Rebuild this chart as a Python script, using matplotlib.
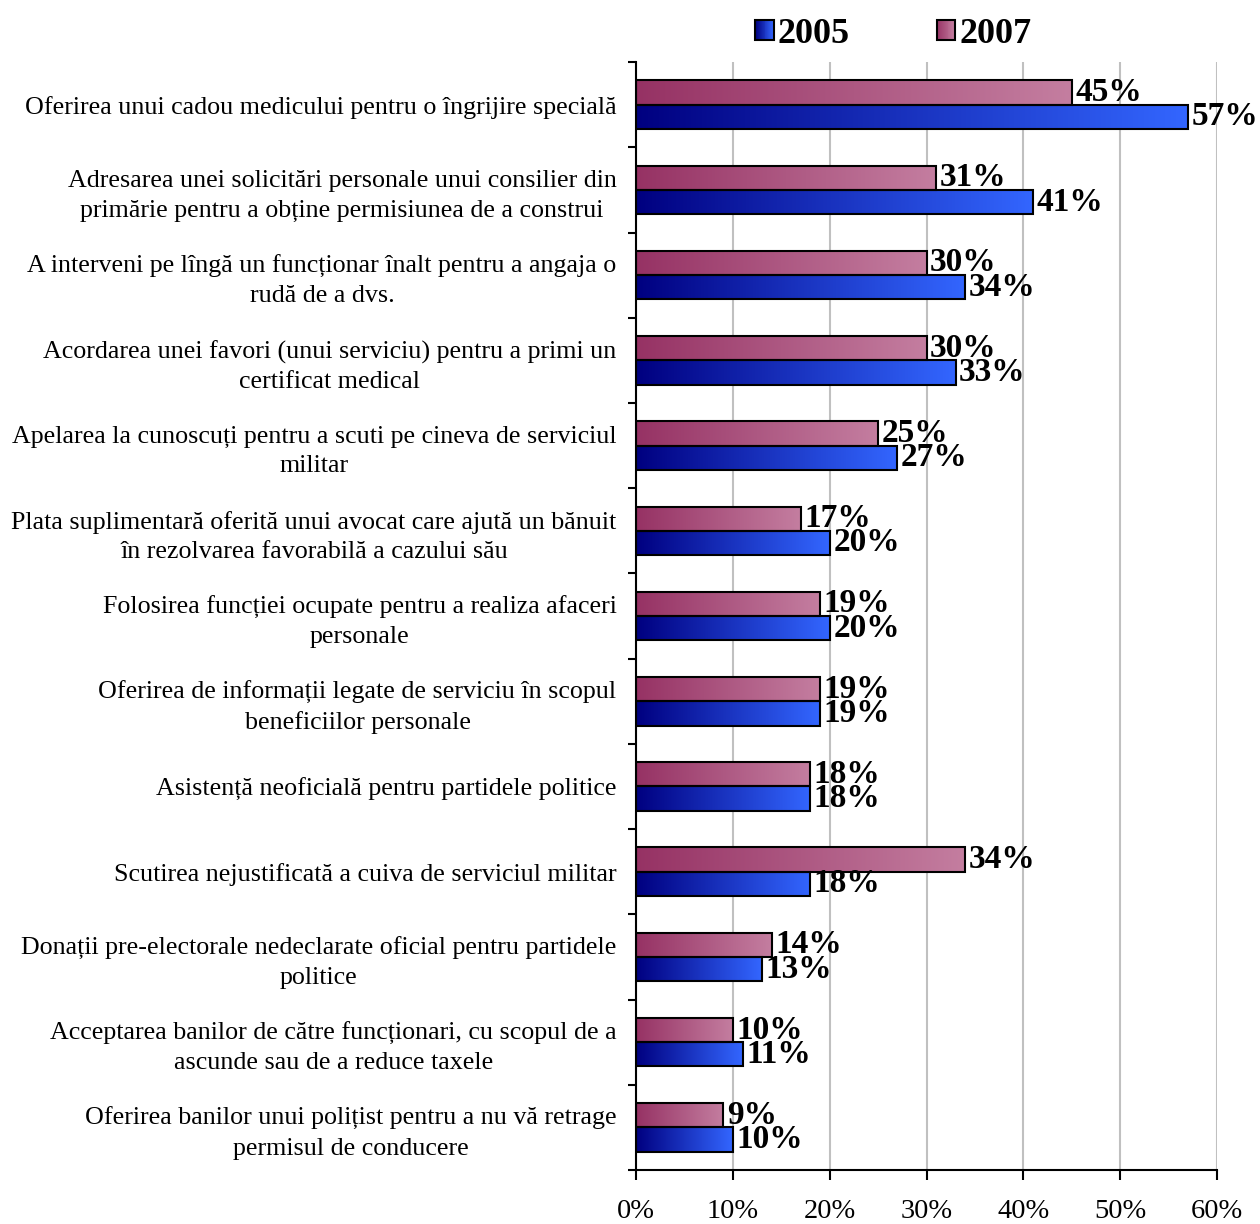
import numpy as np
import matplotlib
matplotlib.use("Agg")
import matplotlib.pyplot as plt
from matplotlib.patches import Rectangle, Patch
from matplotlib.legend_handler import HandlerBase
import matplotlib.ticker as ticker

plt.rcParams['font.family'] = ['Liberation Serif', 'DejaVu Serif']

# --- data (top to bottom) ---
categories = [
    "Oferirea unui cadou medicului pentru o îngrijire specială",
    "Adresarea unei solicitări personale unui consilier din\nprimărie pentru a obține permisiunea de a construi",
    "A interveni pe lîngă un funcționar înalt pentru a angaja o\nrudă de a dvs.",
    "Acordarea unei favori (unui serviciu) pentru a primi un\ncertificat medical",
    "Apelarea la cunoscuți pentru a scuti pe cineva de serviciul\nmilitar",
    "Plata suplimentară oferită unui avocat care ajută un bănuit\nîn rezolvarea favorabilă a cazului său",
    "Folosirea funcției ocupate pentru a realiza afaceri\npersonale",
    "Oferirea de informații legate de serviciu în scopul\nbeneficiilor personale",
    "Asistență neoficială pentru partidele politice",
    "Scutirea nejustificată a cuiva de serviciul militar",
    "Donații pre-electorale nedeclarate oficial pentru partidele\npolitice",
    "Acceptarea banilor de către funcționari, cu scopul de a\nascunde sau de a reduce taxele",
    "Oferirea banilor unui polițist pentru a nu vă retrage\npermisul de conducere",
]
values_2005 = [57, 41, 34, 33, 27, 20, 20, 19, 18, 18, 13, 11, 10]
values_2007 = [45, 31, 30, 30, 25, 17, 19, 19, 18, 34, 14, 10, 9]
series_names = ["2005", "2007"]
xticks = [0, 10, 20, 30, 40, 50, 60]

# gradient end colours (left -> right)
GRAD_2005 = ((0, 0, 128), (51, 102, 255))
GRAD_2007 = ((150, 50, 100), (196, 126, 160))

BAR_H = 0.285


def gradient_row(c0, c1, n=256):
    c0 = np.array(c0) / 255.0
    c1 = np.array(c1) / 255.0
    t = np.linspace(0, 1, n)[:, None]
    return (c0 + (c1 - c0) * t)[None, :, :]


def fill_gradient(ax, bars, grad):
    img = gradient_row(*grad)
    for p in bars:
        x0, y0 = p.get_x(), p.get_y()
        w, h = p.get_width(), p.get_height()
        im = ax.imshow(img, extent=[x0, x0 + w, y0, y0 + h], aspect='auto',
                       interpolation='bilinear', zorder=2, origin='lower')
        im.set_clip_path(p)
        p.set_facecolor('none')


class GradientHandler(HandlerBase):
    def __init__(self, grad):
        super().__init__()
        self.grad = grad

    def create_artists(self, legend, orig_handle, xdescent, ydescent,
                       width, height, fontsize, trans):
        n = 20
        c0 = np.array(self.grad[0]) / 255.0
        c1 = np.array(self.grad[1]) / 255.0
        arts = []
        for k in range(n):
            col = c0 + (c1 - c0) * k / (n - 1)
            r = Rectangle((-xdescent + width * k / n, -ydescent), width / n + 0.3,
                          height, facecolor=col, edgecolor='none', transform=trans)
            arts.append(r)
        arts.append(Rectangle((-xdescent, -ydescent), width, height, facecolor='none',
                              edgecolor='black', lw=1.5, transform=trans))
        return arts


fig = plt.figure(figsize=(12.6, 12.24), dpi=100)
ax = fig.add_axes([0.5048, 0.0441, 0.4611, 0.9052])

y = np.arange(len(categories))
b07 = ax.barh(y - BAR_H / 2, values_2007, height=BAR_H, edgecolor='black',
              linewidth=1.5, zorder=3)
b05 = ax.barh(y + BAR_H / 2, values_2005, height=BAR_H, edgecolor='black',
              linewidth=1.5, zorder=3)

ax.set_xlim(0, 60)
ax.set_ylim(len(categories) - 0.5, -0.5)

fill_gradient(ax, b07, GRAD_2007)
fill_gradient(ax, b05, GRAD_2005)

for bars, vals in ((b07, values_2007), (b05, values_2005)):
    for p, v in zip(bars, vals):
        ax.annotate(f"{v}%", (p.get_x() + p.get_width(), p.get_y() + p.get_height() / 2),
                    xytext=(2.5, 0), textcoords='offset points', va='center', ha='left',
                    fontsize=24, fontweight='bold', zorder=5)

# axes styling
for s in ('top', 'right'):
    ax.spines[s].set_visible(False)
for s in ('left', 'bottom'):
    ax.spines[s].set_linewidth(1.5)

ax.set_xticks(xticks)
ax.xaxis.set_major_formatter(ticker.FuncFormatter(lambda x, pos: f"{x:.0f}%"))
ax.tick_params(axis='x', direction='out', length=7, width=1.5, labelsize=20.5, pad=14)
ax.grid(axis='x', color='#c0c0c0', linewidth=1.5, zorder=0)
ax.set_axisbelow(True)

ax.set_yticks(np.arange(len(categories) + 1) - 0.5)
ax.set_yticklabels([])
ax.tick_params(axis='y', which='major', direction='out', length=6, width=1.5)
ax.set_yticks(y, minor=True)
ax.set_yticklabels(categories, minor=True, fontsize=18.7)
ax.tick_params(axis='y', which='minor', length=0, pad=14)
for lbl in ax.get_yticklabels(minor=True):
    lbl.set_multialignment('center')
    lbl.set_linespacing(1.42)

h05 = Patch(label=series_names[0])
h07 = Patch(label=series_names[1])
fig.legend([h05, h07], series_names, loc='center', bbox_to_anchor=(0.709, 0.972),
           ncol=2, frameon=False, handlelength=0.5, handleheight=0.5,
           handletextpad=0.12, columnspacing=2.4,
           prop={'size': 26, 'weight': 'bold'},
           handler_map={h05: GradientHandler(GRAD_2005), h07: GradientHandler(GRAD_2007)})

fig.savefig("out.png", dpi=100)
